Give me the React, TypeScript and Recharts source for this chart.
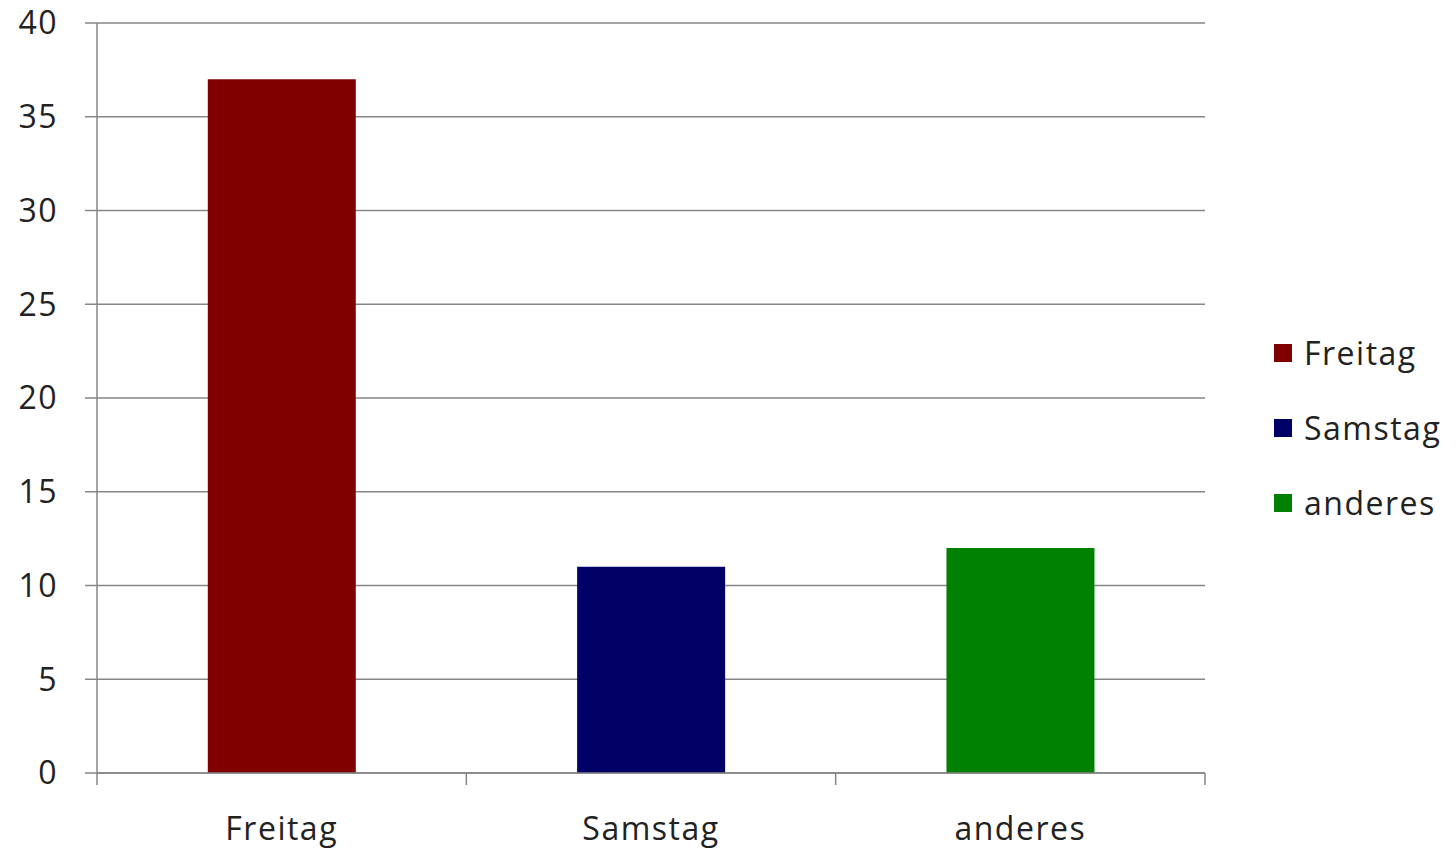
import { BarChart, Bar, XAxis, YAxis, CartesianGrid, Cell } from "recharts";

const categories = ["Freitag", "Samstag", "anderes"];
const values = [37, 11, 12];
const barColors = ["#800000", "#000066", "#008000"];
const yTicks = [0, 5, 10, 15, 20, 25, 30, 35, 40];
const edgeTicks = [0, 1, 2, 3];

// pos = centre of each category slot on the boundary axis
const data = categories.map((name, i) => ({ name, value: values[i], pos: i + 0.5 }));

const FONT = "'Open Sans', sans-serif";
const TEXT = "#222222";
const LINE = "#868686";
const labelStyle = { fontSize: 32, fill: TEXT, fontFamily: FONT, letterSpacing: 1.5 };

function LegendBox() {
    return (
        <div style={{ position: "absolute", left: 1274, top: 315, fontFamily: FONT, fontSize: 32, letterSpacing: 1.5, color: TEXT }}>
            {categories.map((c, i) => (
                <div key={c} style={{ display: "flex", alignItems: "center", height: 75 }}>
                    <span style={{ width: 18, height: 18, background: barColors[i], marginRight: 12 }} />
                    <span>{c}</span>
                </div>
            ))}
        </div>
    );
}

export default function App() {
    return (
        <div style={{ position: "absolute", left: 0, top: 0, width: 1456, height: 848, background: "#fff" }}>
            <BarChart
                width={1456}
                height={848}
                data={data}
                margin={{ top: 23, right: 251, bottom: 0, left: 0 }}
                barCategoryGap="30%"
            >
                <CartesianGrid vertical={false} stroke={LINE} strokeWidth={1.5} />
                {/* boundary ticks between categories, as in the original */}
                <XAxis
                    dataKey="pos"
                    type="number"
                    domain={[0, 3]}
                    allowDataOverflow
                    ticks={edgeTicks}
                    interval={0}
                    tickFormatter={() => ""}
                    tickSize={12}
                    height={1}
                    stroke={LINE}
                    strokeWidth={1.5}
                />
                <XAxis
                    xAxisId="cat"
                    dataKey="name"
                    axisLine={false}
                    tickLine={false}
                    height={74}
                    tickMargin={37}
                    tick={labelStyle}
                />
                <YAxis
                    width={97}
                    domain={[0, 40]}
                    ticks={yTicks}
                    tickSize={12}
                    tickMargin={27}
                    stroke={LINE}
                    strokeWidth={1.5}
                    tick={labelStyle}
                />
                <Bar dataKey="value" xAxisId="cat" isAnimationActive={false}>
                    {data.map((d, i) => (
                        <Cell key={d.name} fill={barColors[i]} />
                    ))}
                </Bar>
            </BarChart>
            <LegendBox />
        </div>
    );
}
